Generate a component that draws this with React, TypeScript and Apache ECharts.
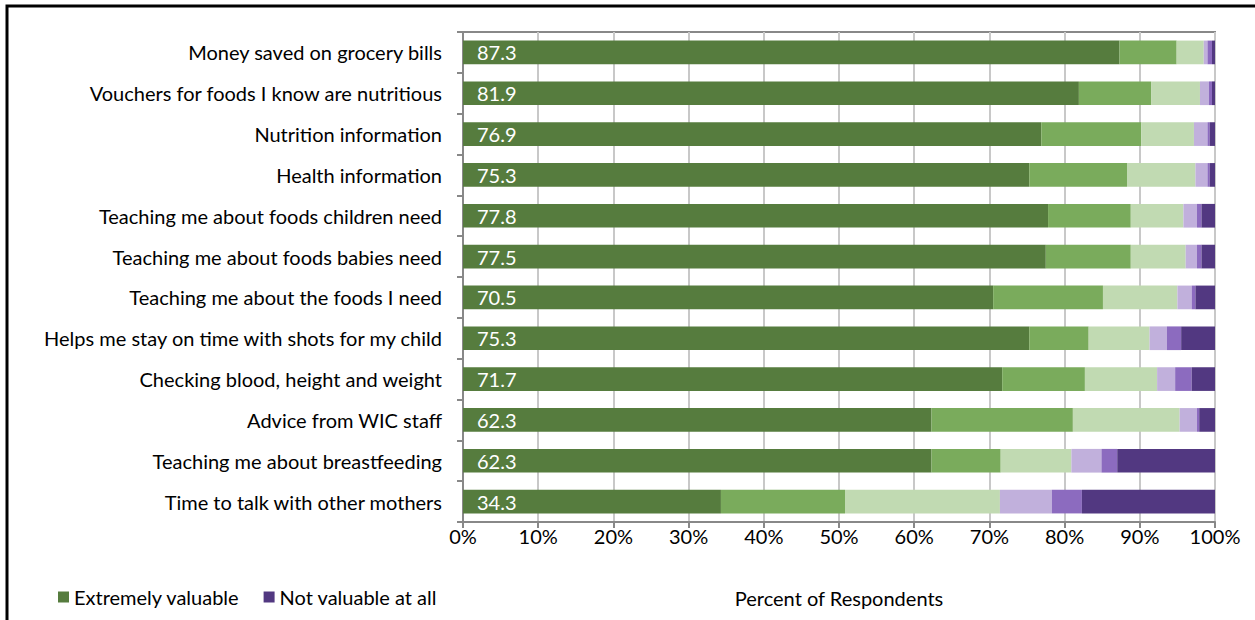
import React, { useEffect, useRef } from "react";
import * as echarts from "echarts";

const categories = [
  "Money saved on grocery bills",
  "Vouchers for foods I know are nutritious",
  "Nutrition information",
  "Health information",
  "Teaching me about foods children need",
  "Teaching me about foods babies need",
  "Teaching me about the foods I need",
  "Helps me stay on time with shots for my child",
  "Checking blood, height and weight",
  "Advice from WIC staff",
  "Teaching me about breastfeeding",
  "Time to talk with other mothers",
];

const extremelyValuable = [87.3, 81.9, 76.9, 75.3, 77.8, 77.5, 70.5, 75.3, 71.7, 62.3, 62.3, 34.3];
const veryValuable = [7.6, 9.6, 13.3, 13.0, 11.0, 11.3, 14.6, 7.9, 11.0, 18.8, 9.2, 16.5];
const somewhatValuable = [3.6, 6.5, 7.0, 9.1, 7.0, 7.3, 9.9, 8.1, 9.6, 14.2, 9.4, 20.6];
const slightlyValuable = [0.5, 1.2, 1.8, 1.6, 1.8, 1.5, 1.9, 2.3, 2.4, 2.3, 4.0, 6.9];
const notVeryValuable = [0.6, 0.4, 0.3, 0.3, 0.6, 0.6, 0.5, 1.9, 2.2, 0.3, 2.1, 4.0];
const notValuableAtAll = [0.4, 0.4, 0.7, 0.7, 1.8, 1.8, 2.6, 4.5, 3.1, 2.1, 13.0, 17.7];

const seriesNames = [
  "Extremely valuable",
  "Very valuable",
  "Somewhat valuable",
  "Slightly valuable",
  "Not very valuable",
  "Not valuable at all",
];
const seriesData = [
  extremelyValuable,
  veryValuable,
  somewhatValuable,
  slightlyValuable,
  notVeryValuable,
  notValuableAtAll,
];
const colors = ["#567c3e", "#7aab5c", "#c1dab2", "#c1b0dc", "#8c6bbf", "#523881"];
const xTicks = [0, 10, 20, 30, 40, 50, 60, 70, 80, 90, 100];

const FONT = "Lato";

export default function App() {
  const ref = useRef<HTMLDivElement>(null);
  useEffect(() => {
    if (!ref.current) return;
    const chart = echarts.init(ref.current, null, { renderer: "svg" });
    chart.setOption({
      animation: false,
      backgroundColor: "#ffffff",
      textStyle: { fontFamily: FONT },
      graphic: [
        {
          type: "rect",
          shape: { x: 7, y: 6, width: 1300, height: 700 },
          style: { fill: "none", stroke: "#000", lineWidth: 3 },
          silent: true,
          z: 100,
        },
      ],
      legend: {
        data: ["Extremely valuable", "Not valuable at all"],
        left: 53,
        top: 582,
        itemWidth: 11,
        itemHeight: 11,
        itemGap: 24,
        icon: "rect",
        textStyle: { fontFamily: FONT, fontSize: 20, color: "#000" },
      },
      grid: {
        left: 463,
        right: 40,
        top: 32,
        height: 490,
        show: true,
        borderColor: "#888",
        borderWidth: 2,
        containLabel: false,
      },
      xAxis: {
        type: "value",
        min: 0,
        max: 100,
        interval: 10,
        name: "Percent of Respondents",
        nameLocation: "middle",
        nameGap: 66,
        nameTextStyle: { fontFamily: FONT, fontSize: 20, color: "#000" },
        axisLine: { show: true, lineStyle: { color: "#888", width: 2 } },
        axisTick: { show: true, length: 6, lineStyle: { color: "#888", width: 2 } },
        axisLabel: {
          formatter: (v: number) => (xTicks.includes(v) ? v + "%" : ""),
          fontFamily: FONT,
          fontSize: 20,
          color: "#000",
          margin: 4,
        },
        splitLine: { show: true, lineStyle: { color: "#c8c8c8", width: 2 } },
      },
      yAxis: {
        type: "category",
        data: categories,
        inverse: true,
        axisLine: { show: true, lineStyle: { color: "#888", width: 2 } },
        axisTick: { show: true, length: 6, lineStyle: { color: "#888", width: 2 } },
        axisLabel: { fontFamily: FONT, fontSize: 20, color: "#000", margin: 21 },
      },
      series: seriesNames.map((name, i) => ({
        name,
        type: "bar",
        stack: "total",
        data: seriesData[i],
        barCategoryGap: "42%",
        itemStyle: { color: colors[i] },
        label:
          i === 0
            ? {
                show: true,
                position: "insideLeft",
                distance: 14,
                color: "#fff",
                fontFamily: FONT,
                fontSize: 20,
                formatter: (p: any) => p.value.toFixed(1),
              }
            : { show: false },
      })),
    });
    return () => chart.dispose();
  }, []);
  return (
    <div
      ref={ref}
      style={{ position: "fixed", left: 0, top: 0, width: 1255, height: 620 }}
    />
  );
}
